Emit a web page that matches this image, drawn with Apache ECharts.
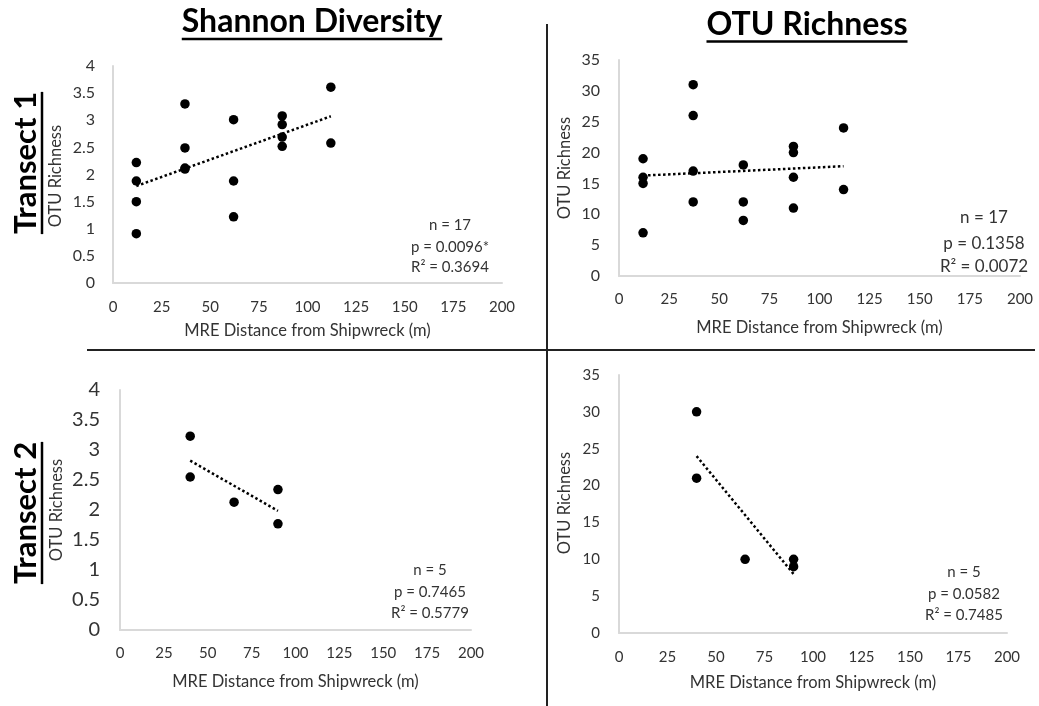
<!DOCTYPE html>
<html><head><meta charset="utf-8">
<script src="https://cdn.jsdelivr.net/npm/echarts@6/dist/echarts.min.js"></script>
<style>html,body{margin:0;padding:0;background:#fff}#c{width:1039px;height:706px}</style>
</head><body><div id="c"></div>
<script>
// ---------- data ----------
const t1Distance = [12, 12, 12, 12, 37, 37, 37, 37, 62, 62, 62, 87, 87, 87, 87, 112, 112];
const t1Shannon  = [2.22, 1.88, 1.50, 0.91, 3.30, 2.49, 2.12, 2.10, 3.01, 1.88, 1.22, 3.08, 2.92, 2.69, 2.52, 3.61, 2.58];
const t1Otu      = [19, 16, 15, 7, 31, 26, 17, 12, 18, 12, 9, 21, 20, 16, 11, 24, 14];
const t2Distance = [40, 40, 65, 90, 90];
const t2Shannon  = [3.23, 2.55, 2.13, 2.34, 1.77];
const t2Otu      = [30, 21, 10, 10, 9];

const columnTitles = ['Shannon Diversity', 'OTU Richness'];
const rowTitles = ['Transect 1', 'Transect 2'];
const yAxisTitle = 'OTU Richness';
const xAxisTitle = 'MRE Distance from Shipwreck (m)';
const statsT1Shannon = ['n = 17', 'p = 0.0096*', 'R\u00B2 = 0.3694'];
const statsT1Otu     = ['n = 17', 'p = 0.1358', 'R\u00B2 = 0.0072'];
const statsT2Shannon = ['n = 5', 'p = 0.7465', 'R\u00B2 = 0.5779'];
const statsT2Otu     = ['n = 5', 'p = 0.0582', 'R\u00B2 = 0.7485'];
const xRange = [0, 200, 25];
const shannonRange = [0, 4, 0.5];
const otuRange = [0, 35, 5];

// ---------- layout ----------
const FONT = 'Lato, "Open Sans", sans-serif';
const TXT = '#333333';
const panels = [
  {xs: t1Distance, ys: t1Shannon, stats: statsT1Shannon, yr: shannonRange,
   grid: {left: 113, top: 66, width: 389, height: 217}, yFont: 16, xFont: 15, yMargin: 18, xMargin: 17,
   xTitleY: 331, yTitle: [56, 176], statsX: 450, statsY: [225, 247, 267], statsFont: 15},
  {xs: t1Distance, ys: t1Otu, stats: statsT1Otu, yr: otuRange,
   grid: {left: 619, top: 60, width: 401, height: 216}, yFont: 16, xFont: 15, yMargin: 19, xMargin: 16,
   xTitleY: 328, yTitle: [565, 168], statsX: 984, statsY: [218, 244, 267], statsFont: 17},
  {xs: t2Distance, ys: t2Shannon, stats: statsT2Shannon, yr: shannonRange,
   grid: {left: 120, top: 390, width: 351, height: 240}, yFont: 20, xFont: 15, yMargin: 20, xMargin: 16,
   xTitleY: 682, yTitle: [57, 510], statsX: 430, statsY: [570, 592, 613], statsFont: 15},
  {xs: t2Distance, ys: t2Otu, stats: statsT2Otu, yr: otuRange,
   grid: {left: 619, top: 375, width: 388, height: 258}, yFont: 15, xFont: 15, yMargin: 19, xMargin: 17,
   xTitleY: 683, yTitle: [565, 503], statsX: 964, statsY: [572, 594, 615], statsFont: 15}
];

function fit(xs, ys) {
  const n = xs.length;
  const mx = xs.reduce((a, b) => a + b, 0) / n;
  const my = ys.reduce((a, b) => a + b, 0) / n;
  let sxy = 0, sxx = 0;
  for (let i = 0; i < n; i++) { sxy += (xs[i] - mx) * (ys[i] - my); sxx += (xs[i] - mx) ** 2; }
  const b = sxy / sxx, a = my - b * mx;
  const x0 = Math.min(...xs), x1 = Math.max(...xs);
  return [[x0, a + b * x0], [x1, a + b * x1]];
}
const ctx = document.createElement('canvas').getContext('2d');
function textW(font, s) { ctx.font = font; return ctx.measureText(s).width; }

const grids = [], xAxes = [], yAxes = [], series = [], graphic = [];
panels.forEach((p, i) => {
  grids.push(Object.assign({containLabel: false}, p.grid));
  const line = {show: true, lineStyle: {color: '#d9d9d9', width: 2}};
  xAxes.push({type: 'value', gridIndex: i, min: xRange[0], max: xRange[1], interval: xRange[2],
    axisLine: line, axisTick: {show: false}, splitLine: {show: false},
    axisLabel: {fontSize: p.xFont, color: TXT, fontFamily: FONT, margin: p.xMargin, showMinLabel: true, showMaxLabel: true}});
  yAxes.push({type: 'value', gridIndex: i, min: p.yr[0], max: p.yr[1], interval: p.yr[2],
    axisLine: line, axisTick: {show: false}, splitLine: {show: false},
    axisLabel: {fontSize: p.yFont, color: TXT, fontFamily: FONT, margin: p.yMargin, showMinLabel: true, showMaxLabel: true}});
  series.push({type: 'line', xAxisIndex: i, yAxisIndex: i, data: fit(p.xs, p.ys), symbol: 'none',
    lineStyle: {color: '#000', width: 2.5, type: [2.5, 2.5]}, z: 1, silent: true});
  series.push({type: 'scatter', xAxisIndex: i, yAxisIndex: i, data: p.xs.map((x, k) => [x, p.ys[k]]),
    symbol: 'circle', symbolSize: 9.5, itemStyle: {color: '#000', opacity: 1}, z: 2});
  graphic.push({type: 'text', x: p.grid.left + p.grid.width / 2, y: p.xTitleY,
    style: {text: xAxisTitle, font: '16.5px ' + FONT, fill: TXT, align: 'center', verticalAlign: 'middle'}});
  graphic.push({type: 'text', x: p.yTitle[0], y: p.yTitle[1], rotation: Math.PI / 2,
    style: {text: yAxisTitle, font: '16.5px ' + FONT, fill: TXT, align: 'center', verticalAlign: 'middle'}});
  p.stats.forEach((s, k) => graphic.push({type: 'text', x: p.statsX, y: p.statsY[k],
    style: {text: s, font: p.statsFont + 'px ' + FONT, fill: TXT, align: 'center', verticalAlign: 'middle'}}));
});

const colTitlePos = [[312, 22, 39], [807, 25, 41.5]];
columnTitles.forEach((t, i) => {
  const f = 'bold 32px ' + FONT;
  const w = textW(f, t);
  const [cx, cy, uy] = colTitlePos[i];
  graphic.push({type: 'text', x: cx, y: cy, style: {text: t, font: f, fill: '#000', align: 'center', verticalAlign: 'middle'}});
  graphic.push({type: 'line', shape: {x1: cx - w / 2, y1: uy, x2: cx + w / 2, y2: uy}, style: {stroke: '#000', lineWidth: 2.5}});
});
const rowTitlePos = [[26, 163, 42], [26, 513, 42]];
rowTitles.forEach((t, i) => {
  const f = 'bold 31px ' + FONT;
  const w = textW(f, t);
  const [cx, cy, ux] = rowTitlePos[i];
  graphic.push({type: 'text', x: cx, y: cy, rotation: Math.PI / 2, style: {text: t, font: f, fill: '#000', align: 'center', verticalAlign: 'middle'}});
  graphic.push({type: 'line', shape: {x1: ux, y1: cy - w / 2, x2: ux, y2: cy + w / 2}, style: {stroke: '#000', lineWidth: 2.5}});
});
graphic.push({type: 'line', shape: {x1: 87, y1: 350, x2: 1035, y2: 350}, style: {stroke: '#222', lineWidth: 2}});
graphic.push({type: 'line', shape: {x1: 547, y1: 24, x2: 547, y2: 706}, style: {stroke: '#222', lineWidth: 2}});

const chart = echarts.init(document.getElementById('c'), null, {renderer: 'canvas'});
chart.setOption({
  animation: false,
  backgroundColor: '#fff',
  grid: grids, xAxis: xAxes, yAxis: yAxes, series: series, graphic: graphic
});
</script></body></html>
